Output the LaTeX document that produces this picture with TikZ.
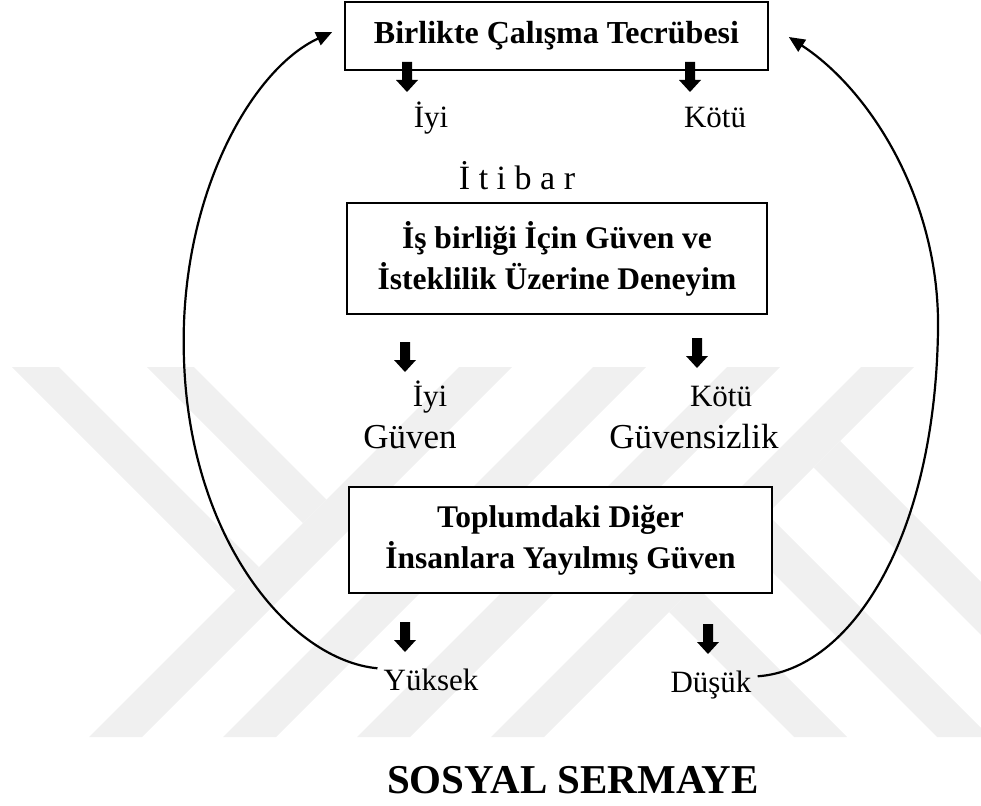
\documentclass[tikz,border=0pt]{standalone}
\usepackage{fontspec}
\setmainfont{Liberation Serif}
\usetikzlibrary{arrows.meta}
\definecolor{wmgray}{RGB}{240,240,240}
\tikzset{
  blockarrow/.pic={\fill (-5,0) -- (5,0) -- (5,18) -- (11,18) -- (0,30) -- (-11,18) -- (-5,18) -- cycle;}
}
\begin{document}
\begin{tikzpicture}[x=1pt,y=-1pt,
  box/.style={draw, line width=1.6pt, fill=white, align=center, inner sep=0pt,
              font=\bfseries\fontsize{31.5}{41}\selectfont},
  lbl/.style={anchor=base, inner sep=0pt, font=\fontsize{31}{37}\selectfont},
  big/.style={anchor=base, inner sep=0pt, font=\fontsize{35}{42}\selectfont},
  loop/.style={line width=2.2pt, -{Triangle[length=16pt,width=14pt]}}
]
\useasboundingbox (0,0) rectangle (981,805);

% background mark: diagonal stripes
\begin{scope}
\clip (0,0) rectangle (981,805);
\foreach \a in {826,960,1094,1228}
  \fill[wmgray] (\a-367,367) -- (\a+53-367,367) -- (\a+53-737,737) -- (\a-737,737) -- cycle;
\foreach \c in {-355,-220}
  \fill[wmgray] (\c+367,367) -- (\c+47+367,367) -- ({(826+\c+47)/2},{(826-\c-47)/2}) -- ({(826+\c)/2},{(826-\c)/2}) -- cycle;
\foreach \c in {57,200,346}
  \fill[wmgray] ({(1281+\c)/2},{(1281-\c)/2}) -- ({(1281+\c+53)/2},{(1281-\c-53)/2}) -- (\c+53+737,737) -- (\c+737,737) -- cycle;
\end{scope}

% boxes
\node[box, minimum width=423pt, minimum height=68pt, font=\bfseries\fontsize{32}{41}\selectfont] (title) at (556.5,36) {Birlikte Çalışma Tecrübesi};
\node[box, minimum width=420pt, minimum height=111pt] (exp) at (557,258.5) {İş birliği İçin Güven ve\\İsteklilik Üzerine Deneyim};
\node[box, minimum width=423pt, minimum height=106pt] (trust) at (560.5,540) {Toplumdaki Diğer\\İnsanlara Yayılmış Güven};

% first level
\pic at (407,62) {blockarrow};
\pic at (690,62) {blockarrow};
\node[lbl] (iyiA) at (431,128) {İyi};
\node[lbl] (kotuA) at (715,128) {Kötü};
\node[lbl, font=\fontsize{34}{40}\selectfont] (itibar) at (517,189) {İ t i b a r};

% second level
\pic at (405,342) {blockarrow};
\pic at (697,338) {blockarrow};
\node[lbl] (iyiB) at (430,406) {İyi};
\node[lbl] (kotuB) at (721,406) {Kötü};
\node[big] (guven) at (410,448) {Güven};
\node[big] (guvensiz) at (694,448) {Güvensizlik};

% third level
\pic at (405,622) {blockarrow};
\pic at (708,624) {blockarrow};
\node[lbl] (yuk) at (431,690) {Yüksek};
\node[lbl] (dus) at (711,692) {Düşük};

\node[anchor=base, inner sep=0pt, font=\bfseries\fontsize{41}{48}\selectfont] (social) at (573,793) {SOSYAL SERMAYE};

% feedback loops
\draw[loop] ([xshift=-6pt]yuk.north west) .. controls (290,660) and (190,540) .. (184,360)
            .. controls (178,200) and (250,70) .. ([shift={(-12pt,4pt)}]title.west);
\draw[loop] ([shift={(6pt,-6pt)}]dus.north east) .. controls (850,670) and (935,540) .. (938,330)
            .. controls (940,200) and (870,90) .. ([shift={(20pt,-1pt)}]title.east);
\end{tikzpicture}
\end{document}
